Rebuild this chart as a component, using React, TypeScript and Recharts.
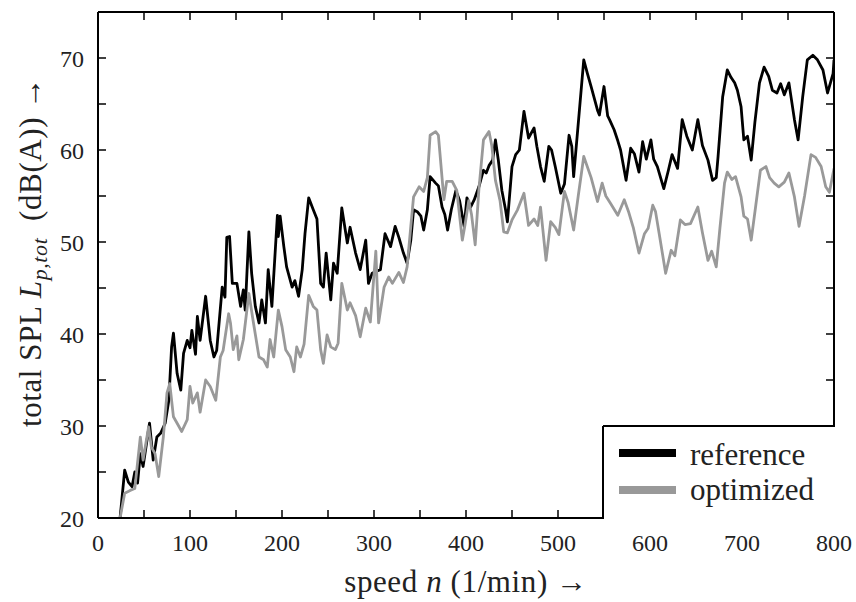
import React from 'react';
import { LineChart, Line, XAxis, YAxis, Label } from 'recharts';

// speed n (1/min) and total SPL (dB(A)) – reference design
const refSpeed = [24, 29, 33, 37, 40, 43, 46, 49, 56, 60, 64, 68, 73, 77, 80, 82, 86, 90, 93, 97, 100, 102, 106, 108, 111, 117, 122, 126, 129, 135, 138, 140, 143, 146, 151, 155, 158, 160, 164, 167, 171, 175, 178, 182, 185, 189, 195, 196, 198, 202, 205, 211, 214, 218, 222, 225, 229, 234, 238, 242, 245, 248, 253, 256, 260, 265, 271, 274, 280, 285, 291, 294, 298, 302, 307, 312, 318, 323, 327, 332, 336, 340, 343, 347, 351, 354, 358, 361, 367, 370, 374, 377, 380, 384, 389, 393, 398, 401, 405, 409, 414, 419, 422, 425, 429, 432, 435, 439, 443, 445, 450, 454, 458, 463, 468, 474, 477, 481, 485, 490, 493, 497, 503, 507, 512, 515, 517, 523, 528, 532, 536, 543, 545, 550, 554, 556, 561, 565, 568, 574, 579, 583, 588, 592, 596, 601, 604, 608, 615, 620, 624, 630, 635, 640, 646, 652, 657, 663, 668, 672, 674, 679, 684, 688, 692, 695, 699, 702, 706, 710, 714, 719, 724, 729, 733, 738, 742, 746, 751, 757, 761, 766, 771, 777, 782, 788, 793, 799, 800];
const refSpl = [20.0, 25.2, 23.9, 23.4, 25.0, 23.8, 27.0, 25.6, 30.3, 26.3, 28.8, 29.2, 30.3, 32.8, 38.6, 40.1, 35.7, 33.9, 37.9, 39.3, 38.5, 40.4, 37.8, 41.9, 39.3, 44.1, 39.3, 37.5, 38.2, 45.1, 44.0, 50.5, 50.6, 45.5, 45.5, 43.0, 44.8, 42.6, 51.1, 46.6, 43.0, 41.2, 43.7, 41.2, 47.0, 43.0, 52.9, 50.6, 52.8, 49.5, 47.3, 45.1, 45.8, 44.1, 47.0, 50.9, 54.8, 53.5, 52.5, 45.5, 45.1, 48.8, 43.7, 47.7, 46.6, 53.7, 49.9, 51.6, 48.8, 47.0, 50.2, 45.5, 46.6, 46.8, 47.0, 50.9, 49.5, 51.7, 50.5, 48.8, 47.7, 50.2, 53.5, 53.3, 52.8, 51.3, 53.5, 57.1, 56.4, 56.1, 53.8, 53.0, 51.3, 53.5, 55.6, 54.5, 51.7, 54.8, 53.8, 54.6, 56.0, 57.8, 57.5, 58.3, 58.9, 61.1, 59.0, 55.6, 53.5, 52.2, 58.2, 59.5, 60.0, 64.2, 61.3, 62.4, 60.4, 58.2, 56.6, 60.4, 60.0, 58.2, 55.3, 56.3, 61.6, 60.4, 57.1, 64.0, 69.8, 68.3, 66.9, 64.3, 63.8, 66.9, 63.7, 63.3, 62.2, 61.0, 60.0, 56.7, 60.2, 59.6, 57.6, 60.9, 59.0, 61.1, 59.0, 58.2, 55.8, 57.8, 59.5, 58.0, 63.3, 61.5, 60.0, 63.3, 60.5, 58.9, 56.7, 57.0, 59.3, 65.8, 68.7, 67.9, 67.3, 66.5, 64.7, 61.1, 61.5, 58.9, 63.0, 67.3, 69.0, 68.0, 66.5, 66.2, 67.2, 66.0, 67.3, 63.3, 61.1, 65.8, 69.8, 70.3, 69.8, 68.7, 66.2, 68.3, 69.8];

// optimized design
const optSpeed = [24, 29, 35, 40, 46, 49, 55, 58, 62, 66, 71, 75, 78, 82, 86, 91, 97, 100, 103, 108, 111, 117, 122, 128, 133, 136, 142, 144, 147, 151, 153, 158, 164, 169, 175, 180, 184, 187, 191, 196, 200, 204, 209, 213, 216, 220, 224, 229, 234, 238, 242, 245, 249, 253, 258, 261, 265, 271, 274, 280, 285, 291, 296, 302, 305, 311, 316, 320, 327, 332, 336, 340, 343, 349, 354, 358, 361, 367, 370, 376, 379, 385, 390, 396, 399, 403, 406, 410, 414, 419, 425, 428, 432, 437, 441, 445, 450, 456, 463, 468, 474, 478, 481, 487, 492, 497, 501, 507, 511, 517, 522, 528, 536, 543, 548, 552, 557, 565, 572, 577, 582, 588, 594, 598, 603, 606, 610, 617, 623, 627, 633, 638, 644, 652, 657, 663, 667, 672, 676, 681, 684, 689, 693, 699, 702, 706, 710, 715, 720, 726, 730, 735, 740, 746, 751, 757, 762, 768, 775, 780, 786, 791, 795, 800];
const optSpl = [20.0, 22.7, 23.0, 23.2, 28.8, 26.3, 29.9, 27.7, 27.0, 24.5, 28.8, 33.6, 34.6, 31.0, 30.3, 29.4, 30.7, 34.3, 32.5, 33.6, 31.5, 35.0, 34.3, 32.8, 37.5, 38.2, 42.2, 41.2, 38.3, 39.8, 37.2, 39.4, 44.4, 41.2, 37.5, 37.2, 36.4, 39.4, 37.5, 42.6, 40.8, 38.3, 37.5, 35.9, 38.6, 37.5, 38.9, 44.2, 43.0, 42.6, 38.3, 36.8, 39.9, 38.6, 38.3, 39.0, 45.5, 42.6, 43.4, 42.0, 39.7, 42.8, 41.3, 49.0, 41.2, 45.1, 46.2, 45.5, 46.7, 45.6, 47.3, 51.7, 54.9, 56.0, 55.5, 57.0, 61.6, 62.0, 61.6, 54.6, 56.6, 56.6, 55.6, 50.2, 51.9, 54.5, 53.0, 49.7, 55.7, 61.1, 62.0, 60.5, 56.7, 54.5, 51.1, 51.0, 52.4, 53.5, 55.3, 51.8, 52.5, 51.8, 53.8, 48.0, 52.2, 51.6, 50.8, 55.5, 54.3, 51.3, 55.0, 59.3, 57.0, 54.4, 56.4, 55.0, 54.2, 52.9, 54.6, 53.2, 51.5, 48.8, 50.9, 51.5, 54.0, 53.3, 50.9, 46.6, 49.1, 48.5, 52.4, 51.9, 52.0, 53.8, 51.0, 48.0, 49.0, 47.3, 51.5, 56.4, 57.6, 56.8, 57.1, 54.9, 52.8, 52.5, 50.2, 54.0, 57.8, 58.2, 57.0, 56.4, 56.0, 56.5, 57.5, 54.9, 51.7, 55.0, 59.5, 59.2, 58.2, 56.0, 55.4, 58.0];

const xLabelTicks = [0, 100, 200, 300, 400, 500, 600, 700, 800];
const xMarkTicks = [0, 50, 100, 150, 200, 250, 300, 350, 400, 450, 500, 550, 600, 650, 700, 750, 800];
const yLabelTicks = [20, 30, 40, 50, 60, 70];
const yMarkTicks = [20, 25, 30, 35, 40, 45, 50, 55, 60, 65, 70, 75];

const seriesNames = ['reference', 'optimized'];
const seriesColors = ['#000000', '#999999'];

const refData = refSpeed.map((n, i) => ({ n, v: refSpl[i] }));
const optData = optSpeed.map((n, i) => ({ n, v: optSpl[i] }));

const FONT = '"Liberation Serif", "DejaVu Serif", serif';
const tickStyle = { fontSize: 24, fill: '#222', fontFamily: FONT };
const noLabel = () => <g />;
const frameLine = { stroke: '#000', strokeWidth: 2 };
const tickLineStyle = { stroke: '#000', strokeWidth: 1.5 };

const LegendBox = () => (
  <svg width={234} height={95} style={{ position: 'absolute', left: 601, top: 424, display: 'block' }}>
    <rect x={2} y={2} width={232} height={93} fill="#fff" stroke="none" />
    <line x1={2} y1={2} x2={234} y2={2} stroke="#000" strokeWidth={2} />
    <line x1={2} y1={2} x2={2} y2={95} stroke="#000" strokeWidth={2} />
    {seriesNames.map((name, i) => (
      <g key={name}>
        <line x1={18} x2={75} y1={29 + i * 37} y2={29 + i * 37} stroke={seriesColors[i]} strokeWidth={8} />
        <text x={89} y={41 + i * 35} fontSize={31} fontFamily={FONT} fill="#222">{name}</text>
      </g>
    ))}
  </svg>
);

export default function App() {
  return (
    <div style={{ position: 'absolute', left: 0, top: 0, width: 856, height: 602 }}>
      <LineChart width={856} height={602} margin={{ top: 12, right: 22, bottom: 44, left: 38 }}>
        <XAxis xAxisId="lab" dataKey="n" type="number" domain={[0, 800]} ticks={xLabelTicks} interval={0}
          axisLine={false} tickLine={false} tickMargin={10} height={40} tick={tickStyle} allowDataOverflow>
          <Label content={() => (
            <text x={466} y={592} textAnchor="middle" fontSize={31} fontFamily={FONT} fill="#222" letterSpacing={0.6}>
              speed <tspan fontStyle="italic">n</tspan> (1/min) →
            </text>
          )} />
        </XAxis>
        <XAxis xAxisId="bot" dataKey="n" type="number" domain={[0, 800]} ticks={xMarkTicks} interval={0}
          mirror orientation="bottom" tickSize={8} tick={noLabel} axisLine={frameLine}
          tickLine={tickLineStyle} allowDataOverflow />
        <XAxis xAxisId="top" dataKey="n" type="number" domain={[0, 800]} ticks={xMarkTicks} interval={0}
          mirror orientation="top" tickSize={8} tick={noLabel} axisLine={frameLine}
          tickLine={tickLineStyle} allowDataOverflow />
        <YAxis yAxisId="lab" type="number" domain={[20, 75]} ticks={yLabelTicks} interval={0} width={60}
          axisLine={false} tickLine={false} tickMargin={8} tick={tickStyle} allowDataOverflow>
          <Label content={() => (
            <text transform="rotate(-90)" x={-252} y={41} textAnchor="middle" fontSize={31} fontFamily={FONT} fill="#222" letterSpacing={0.6}>
              total SPL <tspan fontStyle="italic">L</tspan>
              <tspan fontStyle="italic" fontSize={22} dy={6}>p,tot</tspan>
              <tspan dy={-6}>{'\u00a0\u00a0'}(dB(A)) →</tspan>
            </text>
          )} />
        </YAxis>
        <YAxis yAxisId="left" type="number" domain={[20, 75]} ticks={yMarkTicks} interval={0}
          mirror orientation="left" tickSize={8} tick={noLabel} axisLine={frameLine}
          tickLine={tickLineStyle} allowDataOverflow />
        <YAxis yAxisId="right" type="number" domain={[20, 75]} ticks={yMarkTicks} interval={0}
          mirror orientation="right" tickSize={8} tick={noLabel} axisLine={frameLine}
          tickLine={tickLineStyle} allowDataOverflow />
        <Line xAxisId="lab" yAxisId="lab" data={refData} dataKey="v" name={seriesNames[0]} stroke={seriesColors[0]}
          strokeWidth={2.8} dot={false} isAnimationActive={false} strokeLinejoin="round" />
        <Line xAxisId="lab" yAxisId="lab" data={optData} dataKey="v" name={seriesNames[1]} stroke={seriesColors[1]}
          strokeWidth={2.8} dot={false} isAnimationActive={false} strokeLinejoin="round" />
      </LineChart>
      <LegendBox />
    </div>
  );
}
